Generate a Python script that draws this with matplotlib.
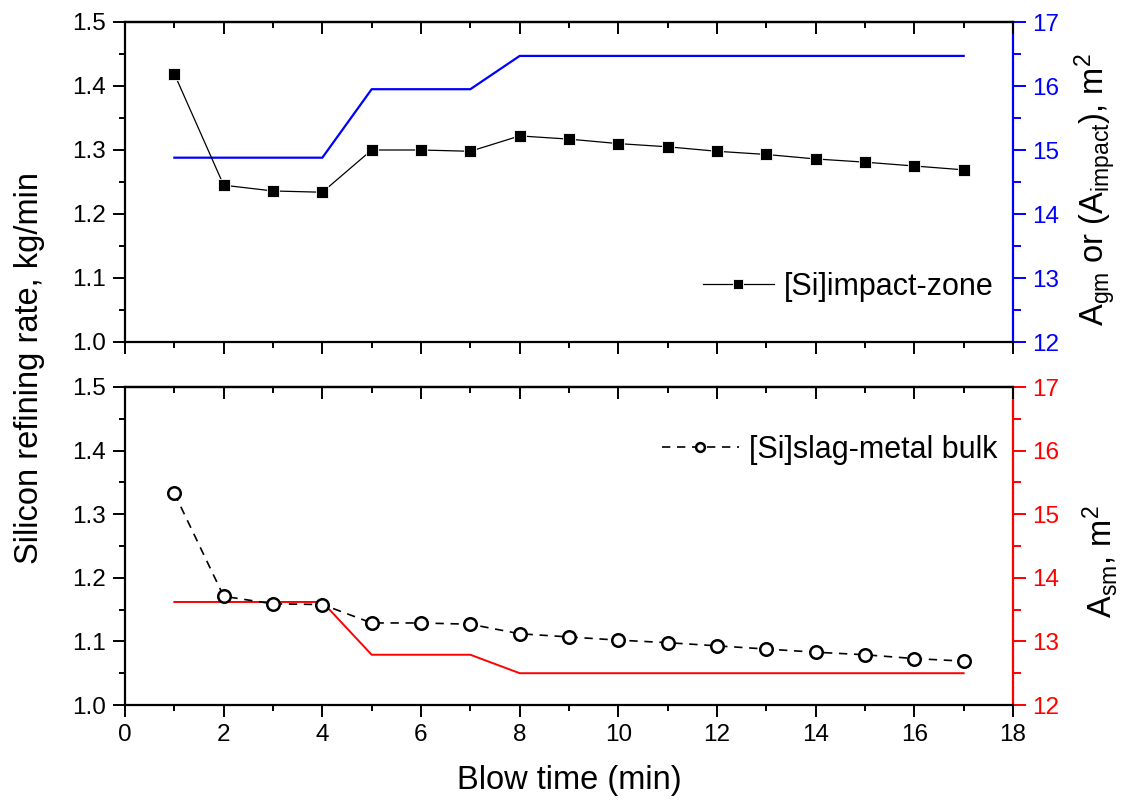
import matplotlib
matplotlib.use("Agg")
import matplotlib.pyplot as plt
from matplotlib.ticker import MultipleLocator

plt.rcParams['font.family'] = ['Liberation Sans', 'DejaVu Sans']
plt.rcParams['mathtext.fontset'] = 'custom'
plt.rcParams['mathtext.rm'] = 'Liberation Sans'
plt.rcParams['mathtext.it'] = 'Liberation Sans:italic'

# ---- data ----
blow_time = [1, 2, 3, 4, 5, 6, 7, 8, 9, 10, 11, 12, 13, 14, 15, 16, 17]
si_impact_zone = [1.419, 1.245, 1.236, 1.234, 1.300, 1.300, 1.298, 1.322, 1.317,
                  1.310, 1.305, 1.298, 1.293, 1.286, 1.281, 1.275, 1.269]
a_impact = [14.88, 14.88, 14.88, 14.88, 15.95, 15.95, 15.95, 16.47, 16.47,
            16.47, 16.47, 16.47, 16.47, 16.47, 16.47, 16.47, 16.47]
si_slag_metal = [1.333, 1.171, 1.159, 1.158, 1.129, 1.129, 1.127, 1.112, 1.107,
                 1.102, 1.098, 1.093, 1.088, 1.083, 1.079, 1.073, 1.069]
a_sm = [13.62, 13.62, 13.62, 13.62, 12.79, 12.79, 12.79, 12.50, 12.50,
        12.50, 12.50, 12.50, 12.50, 12.50, 12.50, 12.50, 12.50]

TICK_FS = 17.5
LABEL_FS = 23.5
LEG_FS = 22
SPINE_LW = 1.6

fig = plt.figure(figsize=(11.29, 8.09), dpi=100)
W, H = 1129, 809
def rect(l, t, r, b):
    return [l / W, 1 - b / H, (r - l) / W, (b - t) / H]

ax1 = fig.add_axes(rect(125, 22, 1013, 342))
ax2 = fig.add_axes(rect(125, 387, 1013, 705))

def style_main(ax, show_xlabels):
    ax.set_xlim(0, 18)
    ax.set_ylim(1.0, 1.5)
    ax.xaxis.set_major_locator(MultipleLocator(2))
    ax.xaxis.set_minor_locator(MultipleLocator(1))
    ax.yaxis.set_major_locator(MultipleLocator(0.1))
    ax.yaxis.set_minor_locator(MultipleLocator(0.05))
    ax.yaxis.set_major_formatter(matplotlib.ticker.FormatStrFormatter('%.1f'))
    for s in ax.spines.values():
        s.set_linewidth(SPINE_LW)
    ax.spines['right'].set_visible(False)
    ax.tick_params(axis='both', which='major', direction='out', length=8.5, width=1.4,
                   labelsize=TICK_FS, pad=5)
    ax.tick_params(axis='both', which='minor', direction='out', length=4.3, width=1.4)
    ax.tick_params(axis='x', labelbottom=show_xlabels)
    top = ax.secondary_xaxis('top')
    top.xaxis.set_major_locator(MultipleLocator(2))
    top.xaxis.set_minor_locator(MultipleLocator(1))
    top.tick_params(which='major', direction='in', length=8.5, width=1.4, labeltop=False)
    top.tick_params(which='minor', direction='in', length=4.3, width=1.4)
    top.spines['top'].set_linewidth(SPINE_LW)

def style_twin(tw, color):
    tw.set_ylim(12, 17)
    tw.yaxis.set_major_locator(MultipleLocator(1))
    tw.yaxis.set_minor_locator(MultipleLocator(0.5))
    for k, s in tw.spines.items():
        s.set_visible(k == 'right')
    tw.spines['right'].set_color(color)
    tw.spines['right'].set_linewidth(SPINE_LW)
    tw.tick_params(axis='y', which='major', direction='out', length=9, width=1.4,
                   colors=color, labelsize=TICK_FS, pad=5)
    tw.tick_params(axis='y', which='minor', direction='out', length=5.5, width=1.4,
                   colors=color)

# ---- top panel ----
style_main(ax1, False)
tw1 = ax1.twinx()
style_twin(tw1, '#0000ff')
tw1.plot(blow_time, a_impact, color='#0000ff', lw=1.6)
ax1.plot(blow_time, si_impact_zone, color='black', lw=0.9, marker='s',
         markersize=9, markerfacecolor='black', markeredgecolor='white',
         markeredgewidth=0.6, label='[Si]impact-zone')
ax1.set_zorder(tw1.get_zorder() + 1)
ax1.patch.set_visible(False)
ax1.legend(loc='center right', bbox_to_anchor=(0.978, 0.172), frameon=False,
           fontsize=LEG_FS, borderpad=0, borderaxespad=0, handlelength=2.3,
           handletextpad=0.33, markerscale=0.85)

# ---- bottom panel ----
style_main(ax2, True)
tw2 = ax2.twinx()
style_twin(tw2, '#ff0000')
tw2.plot(blow_time, a_sm, color='#ff0000', lw=1.4)
ax2.plot(blow_time, si_slag_metal, color='black', lw=1.2, ls=(0, (5, 4)),
         marker='o', markersize=9, markerfacecolor='white',
         markeredgecolor='black', markeredgewidth=1.8,
         label='[Si]slag-metal bulk')
ax2.set_zorder(tw2.get_zorder() + 1)
ax2.patch.set_visible(False)
ax2.legend(loc='center right', bbox_to_anchor=(0.982, 0.802), frameon=False,
           fontsize=LEG_FS, borderpad=0, borderaxespad=0, handlelength=2.5,
           handletextpad=0.33, markerscale=0.7)

ax2.set_xlabel('Blow time (min)', fontsize=LABEL_FS, labelpad=14)

fig.text(30 / W, 1 - 368 / H, 'Silicon refining rate, kg/min', rotation=90,
         ha='center', va='center', fontsize=LABEL_FS)
fig.text(1095 / W, 1 - 190 / H, r'A$_{\mathrm{gm}}$ or (A$_{\mathrm{impact}}$), m$^2$',
         rotation=90, ha='center', va='center', fontsize=LABEL_FS)
fig.text(1100 / W, 1 - 562 / H, r'A$_{\mathrm{sm}}$, m$^2$',
         rotation=90, ha='center', va='center', fontsize=LABEL_FS)

fig.savefig('out.png', dpi=100, facecolor='white')
